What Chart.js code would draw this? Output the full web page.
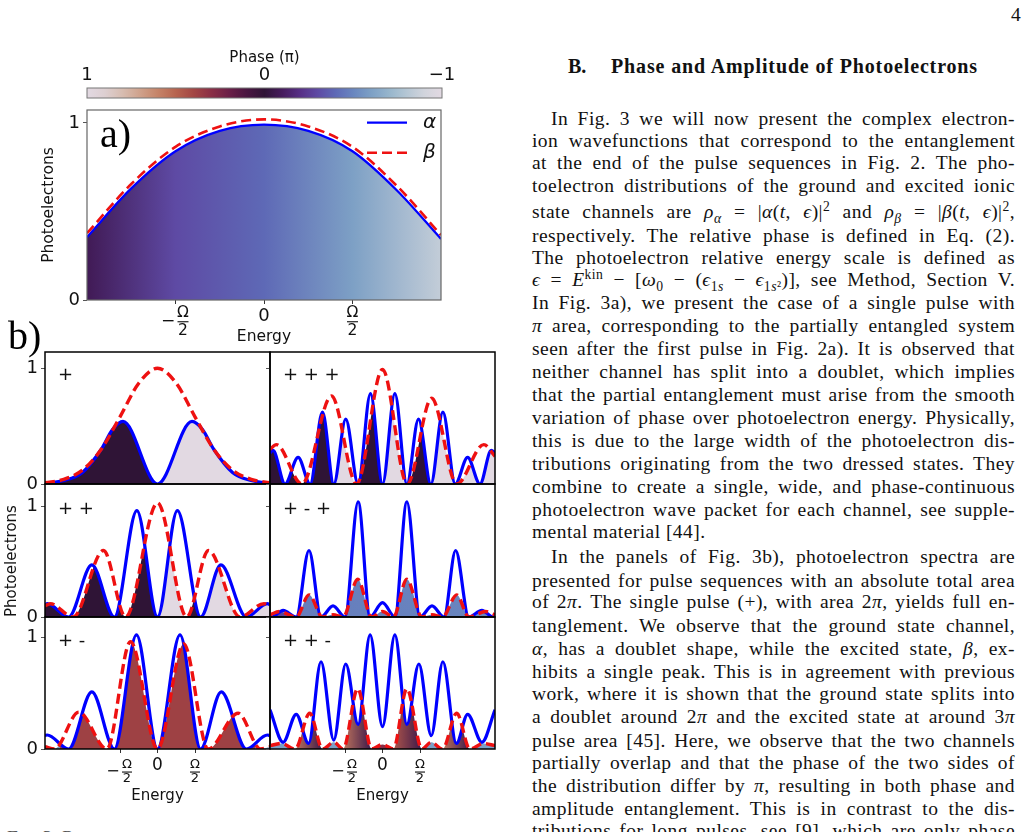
<!DOCTYPE html>
<html>
<head>
<meta charset="utf-8">
<title>Fig. 3 – phase and amplitude of photoelectrons</title>
<script src="https://cdn.jsdelivr.net/npm/chart.js@4.4.1/dist/chart.umd.min.js"></script>
<style>
  html, body { margin: 0; padding: 0; background: #fff; }
  #page { position: relative; width: 1029px; height: 832px; overflow: hidden; background: #fff; }
  #page canvas { position: absolute; }
  .sans { position: absolute; font-family: 'DejaVu Sans', sans-serif; font-size: 18px; line-height: 18px; color: #111; white-space: pre; }
  .tag { position: absolute; font-family: 'Liberation Serif', serif; font-size: 40px; line-height: 40px; color: #000; }
  .ln { position: absolute; left: 532px; width: 483px; font-family: 'Liberation Serif', 'Times New Roman', serif; font-size: 19.5px; line-height: 23px; color: #111; letter-spacing: 0.45px; text-align: justify; text-align-last: justify; }
  .ln.ind { left: 551px; width: 464px; }
  .ln.end { text-align-last: left; }
  .head { position: absolute; font-family: 'Liberation Serif', serif; font-weight: bold; font-size: 20px; line-height: 23px; color: #111; white-space: nowrap; }
  sub, sup { font-size: 70%; line-height: 0; }
</style>
</head>
<body>
<div id="page">
  <canvas id="cbar"></canvas>
  <canvas id="panelA"></canvas>
  <canvas id="pPlus"></canvas>
  <canvas id="pPlusPlus"></canvas>
  <canvas id="pPlusMinus"></canvas>
  <canvas id="pPPP"></canvas>
  <canvas id="pPMP"></canvas>
  <canvas id="pPPM"></canvas>

  <div class="tag" style="left:100px; top:114px;">a)</div>
  <div class="tag" style="left:8px; top:316px;">b)</div>
  <div class="sans" style="left:58px; top:365px;">+</div>
  <div class="sans" style="left:58px; top:499px;">+ +</div>
  <div class="sans" style="left:58px; top:631px;">+ -</div>
  <div class="sans" style="left:283px; top:365px;">+ + +</div>
  <div class="sans" style="left:283px; top:499px;">+ - +</div>
  <div class="sans" style="left:283px; top:631px;">+ + -</div>

  <div class="head" style="left:1011px; top:3px; font-weight:normal; font-size:19.5px;">4</div>
  <div class="head" style="left:568px; top:55px;">B.</div>
  <div id="secTitle" class="head" style="left:611px; top:55px; letter-spacing:0.9px;">Phase and Amplitude of Photoelectrons</div>

  <div class="ln ind" style="top:107px;">In Fig. 3 we will now present the complex electron-</div>
  <div class="ln" style="top:129px;">ion wavefunctions that correspond to the entanglement</div>
  <div class="ln" style="top:151px;">at the end of the pulse sequences in Fig. 2. The pho-</div>
  <div class="ln" style="top:174px;">toelectron distributions of the ground and excited ionic</div>
  <div class="ln" style="top:200px;">state channels are <i>ρ</i><sub><i>α</i></sub> = |<i>α</i>(<i>t</i>, <i>ϵ</i>)|<sup>2</sup> and <i>ρ</i><sub><i>β</i></sub> = |<i>β</i>(<i>t</i>, <i>ϵ</i>)|<sup>2</sup>,</div>
  <div class="ln" style="top:224px;">respectively. The relative phase is defined in Eq. (2).</div>
  <div class="ln" style="top:246px;">The photoelectron relative energy scale is defined as</div>
  <div class="ln" style="top:268px;"><i>ϵ</i> = <i>E</i><sup>kin</sup> − [<i>ω</i><sub>0</sub> − (<i>ϵ</i><sub>1<i>s</i></sub> − <i>ϵ</i><sub>1<i>s</i>²</sub>)], see Method, Section V.</div>
  <div class="ln" style="top:291px;">In Fig. 3a), we present the case of a single pulse with</div>
  <div class="ln" style="top:314px;"><i>π</i> area, corresponding to the partially entangled system</div>
  <div class="ln" style="top:337px;">seen after the first pulse in Fig. 2a). It is observed that</div>
  <div class="ln" style="top:360px;">neither channel has split into a doublet, which implies</div>
  <div class="ln" style="top:383px;">that the partial entanglement must arise from the smooth</div>
  <div class="ln" style="top:406px;">variation of phase over photoelectron energy. Physically,</div>
  <div class="ln" style="top:429px;">this is due to the large width of the photoelectron dis-</div>
  <div class="ln" style="top:452px;">tributions originating from the two dressed states. They</div>
  <div class="ln" style="top:475px;">combine to create a single, wide, and phase-continuous</div>
  <div class="ln" style="top:498px;">photoelectron wave packet for each channel, see supple-</div>
  <div class="ln end" style="top:520px;">mental material [44].</div>
  <div class="ln ind" style="top:545px;">In the panels of Fig. 3b), photoelectron spectra are</div>
  <div class="ln" style="top:569px;">presented for pulse sequences with an absolute total area</div>
  <div class="ln" style="top:590px;">of 2<i>π</i>. The single pulse (+), with area 2<i>π</i>, yields full en-</div>
  <div class="ln" style="top:614px;">tanglement. We observe that the ground state channel,</div>
  <div class="ln" style="top:637px;"><i>α</i>, has a doublet shape, while the excited state, <i>β</i>, ex-</div>
  <div class="ln" style="top:660px;">hibits a single peak. This is in agreement with previous</div>
  <div class="ln" style="top:682px;">work, where it is shown that the ground state splits into</div>
  <div class="ln" style="top:705px;">a doublet around 2<i>π</i> and the excited state at around 3<i>π</i></div>
  <div class="ln" style="top:729px;">pulse area [45]. Here, we observe that the two channels</div>
  <div class="ln" style="top:751px;">partially overlap and that the phase of the two sides of</div>
  <div class="ln" style="top:774px;">the distribution differ by <i>π</i>, resulting in both phase and</div>
  <div class="ln" style="top:797px;">amplitude entanglement. This is in contrast to the dis-</div>
  <div class="ln" style="top:819px;">tributions for long pulses, see [9], which are only phase</div>
  <div class="ln end" style="left:7px; width:480px; top:826px; color:#555; font-variant:small-caps;">Fig. 3. Photoelectron distributions and the relative phase</div>
</div>

<script>
// tick positions (energy in units of Ω/2)
const energyTicks = [-1, 0, 1];
const photoTicks = [0, 1];
const phaseTicks = [1, 0, -1];

// a) single π pulse
const aAlpha = [[-2, 0.355], [-1.5, 0.63], [-1, 0.84], [-0.5, 0.955], [0, 0.99], [0.5, 0.955], [1, 0.84], [1.5, 0.62], [2, 0.345]];
const aBeta = [[-2, 0.377], [-1.5, 0.655], [-1, 0.865], [-0.5, 0.98], [0, 1.02], [0.5, 0.98], [1, 0.865], [1.5, 0.645], [2, 0.367]];
const aPhase = [[-2, -0.08], [-1, -0.3], [0, -0.4], [1, -0.6], [2, -0.85]];

// b) "+"
const plusAlpha = [[-3, 0.005], [-2.5, 0.03], [-2, 0.1], [-1.5, 0.3], [-1.2, 0.47], [-0.92, 0.54], [0, 0], [0.92, 0.54], [1.2, 0.47], [1.5, 0.3], [2, 0.1], [2.5, 0.03], [3, 0.005]];
const plusBeta = [[-3, 0.01], [-2.5, 0.04], [-2, 0.12], [-1.5, 0.3], [-1, 0.58], [-0.5, 0.87], [0, 1.0], [0.5, 0.87], [1, 0.58], [1.5, 0.3], [2, 0.12], [2.5, 0.04], [3, 0.01]];
const plusPhase = [[-3, 0], [0, 0], [0, 1], [3, 1]];

// b) "+ +"
const ppAlpha = [[-3, 0.11], [-2.94, 0.12], [-2.37, 0], [-1.75, 0.47], [-1.15, 0], [-0.55, 0.96], [0, 0], [0.53, 0.96], [1.15, 0], [1.69, 0.47], [2.37, 0], [2.93, 0.12], [3, 0.11]];
const ppBeta = [[-3, 0.1], [-2.86, 0.12], [-2.25, 0], [-1.44, 0.6], [-0.85, 0], [0, 1.03], [0.78, 0], [1.36, 0.6], [2.2, 0], [2.84, 0.12], [3, 0.1]];
const ppPhase = [[-3, 0], [0, 0], [0, 1], [0.78, 1], [0.78, 0], [1.1, 0], [1.1, 1], [3, 1]];

// b) "+ -"
const pmAlpha = [[-3, 0.12], [-2.94, 0.125], [-2.37, 0], [-1.75, 0.51], [-1.15, 0], [-0.56, 1.02], [0, 0], [0.6, 1.02], [1.15, 0], [1.7, 0.51], [2.37, 0], [2.93, 0.125], [3, 0.12]];
const pmBeta = [[-3, 0.02], [-2.75, 0], [-2.1, 0.33], [-1.35, 0], [-0.72, 0.96], [0, 0], [0.7, 0.94], [1.35, 0], [2.15, 0.32], [2.75, 0], [3, 0.02]];
const pmPhase = [[-3, -0.6], [-2.6, -0.6], [-2.6, 0.38], [2.6, 0.38], [2.6, -0.6], [3, -0.6]];

// b) "+ + +"
const pppAlpha = [[-3, 0.27], [-2.92, 0.29], [-2.6, 0], [-2.25, 0.23], [-1.93, 0], [-1.6, 0.62], [-1.3, 0], [-0.98, 0.56], [-0.65, 0], [-0.32, 0.78], [0, 0], [0.33, 0.78], [0.65, 0], [0.96, 0.56], [1.29, 0], [1.61, 0.62], [1.94, 0], [2.27, 0.23], [2.6, 0], [2.9, 0.29], [3, 0.27]];
const pppBeta = [[-3, 0.3], [-2.83, 0.34], [-2.15, 0], [-1.36, 0.76], [-0.69, 0], [0, 0.99], [0.66, 0], [1.31, 0.74], [1.98, 0], [2.7, 0.34], [3, 0.24]];
const pppPhase = [[-3, 0], [-1.3, 0], [-1.3, 1], [-0.65, 1], [-0.65, 0], [0, 0], [0, 1], [0.65, 1], [0.65, 0], [1.3, 0], [1.3, 1], [3, 1]];

// b) "+ - +"
const pmpAlpha = [[-3, 0.01], [-2.95, 0], [-2.65, 0.06], [-2.3, 0], [-1.96, 0.6], [-1.64, 0], [-1.32, 0.1], [-1.0, 0], [-0.65, 1.04], [-0.33, 0], [0, 0.13], [0.33, 0], [0.65, 1.04], [1.0, 0], [1.32, 0.1], [1.64, 0], [1.95, 0.6], [2.3, 0], [2.65, 0.06], [2.95, 0], [3, 0.01]];
const pmpBeta = [[-3, 0.02], [-2.75, 0.05], [-2.3, 0], [-1.96, 0.2], [-1.6, 0], [-1.32, 0.02], [-1.05, 0], [-0.66, 0.34], [-0.29, 0], [0, 0.05], [0.29, 0], [0.65, 0.34], [1.05, 0], [1.32, 0.02], [1.6, 0], [1.98, 0.2], [2.3, 0], [2.75, 0.05], [3, 0.02]];
const pmpPhase = [[-3, -0.25], [-2.4, -0.3], [-2.2, -0.47], [3, -0.5]];

// b) "+ + -"
const ppmAlpha = [[-3, 0.35], [-2.65, 0.06], [-2.3, 0.31], [-1.97, 0.05], [-1.64, 0.78], [-1.3, 0.08], [-0.98, 0.76], [-0.65, 0.22], [-0.33, 1.02], [0, 0.2], [0.33, 1.02], [0.65, 0.22], [0.97, 0.76], [1.3, 0.12], [1.61, 0.78], [1.97, 0.05], [2.27, 0.31], [2.65, 0.06], [3, 0.35]];
const ppmBeta = [[-3, 0.03], [-2.7, 0.05], [-2.33, 0], [-1.94, 0.32], [-1.6, 0], [-1.3, 0.06], [-1.05, 0], [-0.66, 0.54], [-0.29, 0], [0, 0.04], [0.29, 0], [0.65, 0.54], [1.05, 0], [1.3, 0.06], [1.6, 0], [1.98, 0.32], [2.33, 0], [2.7, 0.05], [3, 0.03]];
const ppmPhase = [[-3, -0.6], [-2.33, -0.6], [-2.33, 0.55], [-1.6, -0.05], [-1.6, -0.6], [-1.05, -0.6], [-1.05, 0.55], [-0.29, -0.05], [-0.29, 0.3], [0.29, 0.3], [0.29, 0.45], [1.05, -0.05], [1.05, -0.6], [1.6, -0.6], [1.6, 0.55], [2.33, -0.05], [2.33, -0.6], [3, -0.6]];

// twilight colour map (matplotlib), phase +1 .. -1 maps to t = 1 .. 0
const twilightMap = [
  [0.00, [226, 217, 226]], [0.05, [209, 212, 220]], [0.10, [180, 198, 212]], [0.15, [150, 181, 204]],
  [0.20, [125, 160, 197]], [0.25, [105, 134, 191]], [0.30, [94, 105, 182]], [0.35, [94, 74, 164]],
  [0.40, [87, 47, 134]], [0.45, [70, 27, 93]], [0.50, [47, 20, 54]], [0.55, [74, 22, 65]],
  [0.60, [107, 31, 72]], [0.65, [138, 46, 70]], [0.70, [163, 70, 68]], [0.75, [183, 100, 79]],
  [0.80, [197, 131, 104]], [0.85, [207, 161, 139]], [0.90, [215, 188, 176]], [0.95, [221, 207, 209]],
  [1.00, [226, 217, 226]]
];

function twilight(t) {
  t = Math.min(1, Math.max(0, t));
  for (let i = 1; i < twilightMap.length; i++) {
    const [t1, c1] = twilightMap[i];
    if (t <= t1) {
      const [t0, c0] = twilightMap[i - 1];
      const f = (t - t0) / (t1 - t0);
      return 'rgb(' + c0.map((c, k) => Math.round(c + (c1[k] - c) * f)).join(',') + ')';
    }
  }
  return 'rgb(226,217,226)';
}
const phaseColor = p => twilight(0.5 + p / 2);

const BLUE = '#0000ff';
const RED = '#ee1111';

Chart.defaults.font.family = "'DejaVu Sans', sans-serif";
Chart.defaults.color = '#111';

// fill under min(alpha, beta), coloured by the relative phase
const overlapFill = {
  id: 'overlapFill',
  beforeDatasetsDraw(chart, args, opts) {
    const stops = opts.phase;
    if (!stops) return;
    const { ctx, chartArea: area, scales } = chart;
    const base = scales.y.getPixelForValue(0);
    const under = meta => {
      const line = meta.dataset;
      line.updateControlPoints(area, 'x');
      const pts = line.points;
      ctx.beginPath();
      line.path(ctx);
      ctx.lineTo(pts[pts.length - 1].x, base);
      ctx.lineTo(pts[0].x, base);
      ctx.closePath();
    };
    const grad = ctx.createLinearGradient(area.left, 0, area.right, 0);
    const span = scales.x.max - scales.x.min;
    stops.forEach(([x, p]) => {
      grad.addColorStop(Math.min(1, Math.max(0, (x - scales.x.min) / span)), phaseColor(p));
    });
    ctx.save();
    ctx.beginPath();
    ctx.rect(area.left, area.top, area.width, area.height);
    ctx.clip();
    under(chart.getDatasetMeta(0));
    ctx.clip();
    under(chart.getDatasetMeta(1));
    ctx.fillStyle = grad;
    ctx.fill();
    ctx.restore();
  }
};

const frame = {
  id: 'frame',
  afterDatasetsDraw(chart, args, opts) {
    if (!opts.width) return;
    const { ctx, chartArea: a } = chart;
    ctx.save();
    ctx.strokeStyle = opts.color;
    ctx.lineWidth = opts.width;
    ctx.strokeRect(a.left, a.top, a.width, a.height);
    ctx.restore();
  }
};

// -Ω/2, 0, Ω/2 drawn as stacked fractions under the energy ticks
const fracTicks = {
  id: 'fracTicks',
  afterDraw(chart, args, o) {
    if (!o.show) return;
    const { ctx } = chart;
    const xs = chart.scales.x;
    const base = chart.chartArea.bottom;
    ctx.save();
    ctx.fillStyle = '#111';
    ctx.textAlign = 'center';
    ctx.textBaseline = 'middle';
    energyTicks.forEach(v => {
      const px = xs.getPixelForValue(v);
      if (v === 0) {
        ctx.font = o.zeroSize + "px 'DejaVu Sans'";
        ctx.fillText('0', px, base + o.zeroY);
        return;
      }
      const cx = v < 0 ? px + o.shift : px;
      if (v < 0) {
        ctx.font = o.minusSize + "px 'DejaVu Sans'";
        ctx.fillText('−', px - o.shift, base + o.barY);
      }
      ctx.font = o.fracSize + "px 'DejaVu Sans'";
      ctx.fillText('Ω', cx, base + o.numY);
      ctx.fillText('2', cx, base + o.denY);
      ctx.fillRect(cx - o.barW / 2, base + o.barY - 0.5, o.barW, 1.1);
    });
    ctx.restore();
  }
};

const lineLegend = {
  id: 'lineLegend',
  afterDatasetsDraw(chart, args, o) {
    if (!o.show) return;
    const { ctx, chartArea: a } = chart;
    chart.data.datasets.forEach((ds, i) => {
      const y = a.top + o.y0 + i * o.dy;
      ctx.save();
      ctx.strokeStyle = ds.borderColor;
      ctx.lineWidth = ds.borderWidth;
      ctx.setLineDash(ds.borderDash || []);
      ctx.beginPath();
      ctx.moveTo(a.right - o.x0, y);
      ctx.lineTo(a.right - o.x1, y);
      ctx.stroke();
      ctx.setLineDash([]);
      ctx.fillStyle = '#111';
      ctx.font = 'italic ' + o.size + "px 'DejaVu Sans'";
      ctx.textAlign = 'left';
      ctx.textBaseline = 'middle';
      ctx.fillText(ds.label, a.right - o.textX, y);
      ctx.restore();
    });
  }
};

function place(id, box) {
  const cv = document.getElementById(id);
  cv.width = box.w;
  cv.height = box.h;
  cv.style.left = box.left + 'px';
  cv.style.top = box.top + 'px';
  return cv;
}

function makePanel(id, box, p) {
  const cv = place(id, box);
  return new Chart(cv, {
    type: 'line',
    data: {
      datasets: [
        { label: 'α', data: p.alpha.map(([x, y]) => ({ x, y })), borderColor: BLUE, borderWidth: p.lw, order: 1 },
        { label: 'β', data: p.beta.map(([x, y]) => ({ x, y })), borderColor: RED, borderWidth: p.lwDash, borderDash: p.dash, order: 0 }
      ]
    },
    options: {
      animation: false,
      responsive: false,
      events: [],
      layout: { padding: box.pad },
      elements: {
        point: { radius: 0 },
        line: { cubicInterpolationMode: 'monotone', fill: false, borderCapStyle: 'butt', borderJoinStyle: 'round' }
      },
      plugins: {
        legend: { display: false },
        tooltip: { enabled: false },
        overlapFill: { phase: p.phase },
        frame: { color: p.frameColor, width: p.frameWidth },
        fracTicks: p.frac || { show: false },
        lineLegend: p.legend || { show: false }
      },
      scales: {
        x: {
          type: 'linear',
          min: p.xmin,
          max: p.xmax,
          afterFit: s => { s.height = box.xH; },
          afterBuildTicks: s => { s.ticks = energyTicks.map(v => ({ value: v })); },
          ticks: { display: false },
          grid: { display: !!p.xTickMarks, drawOnChartArea: false, tickLength: 4, color: '#333' },
          border: { display: false },
          title: p.xTitle
            ? { display: true, text: 'Energy', color: '#111', font: { size: p.xTitle.size }, padding: { top: 0, bottom: p.xTitle.pad } }
            : { display: false }
        },
        y: {
          min: 0,
          max: p.ymax,
          afterFit: s => { s.width = box.yW; },
          afterBuildTicks: s => { s.ticks = photoTicks.map(v => ({ value: v })); },
          ticks: { display: !!p.yLabels, color: '#111', font: { size: 18 }, padding: 3 },
          grid: { display: true, drawOnChartArea: false, tickLength: 4, color: '#555' },
          border: { display: false },
          title: p.yTitle
            ? { display: true, text: 'Photoelectrons', color: '#111', align: p.yTitle.align, font: { size: p.yTitle.size }, padding: { top: p.yTitle.pad, bottom: 0 } }
            : { display: false }
        }
      }
    },
    plugins: [overlapFill, frame, fracTicks, lineLegend]
  });
}

// colour bar for the phase
(function () {
  const cv = place('cbar', { left: 60, top: 40, w: 420, h: 62 });
  const barGradient = chart => {
    const area = chart.chartArea;
    if (!area) return '#888';
    const g = chart.ctx.createLinearGradient(area.left, 0, area.right, 0);
    for (let i = 0; i <= 40; i++) g.addColorStop(i / 40, phaseColor(1 - 2 * i / 40));
    return g;
  };
  new Chart(cv, {
    type: 'bar',
    data: {
      labels: ['phase'],
      datasets: [{ data: [[-1, 1]], backgroundColor: c => barGradient(c.chart), borderWidth: 0, barPercentage: 1, categoryPercentage: 1 }]
    },
    options: {
      indexAxis: 'y',
      animation: false,
      responsive: false,
      events: [],
      layout: { padding: { left: 27, right: 38, top: 0, bottom: 4 } },
      plugins: { legend: { display: false }, tooltip: { enabled: false }, frame: { color: '#777', width: 1 } },
      scales: {
        x: {
          type: 'linear', min: -1, max: 1, reverse: true, position: 'top',
          afterFit: s => { s.height = 48; },
          afterBuildTicks: s => { s.ticks = phaseTicks.map(v => ({ value: v })); },
          ticks: { color: '#111', font: { size: 18 }, padding: 2, maxRotation: 0, callback: v => (v < 0 ? '−' + Math.abs(v) : String(v)) },
          grid: { display: false, drawTicks: false },
          border: { display: false },
          title: { display: true, text: 'Phase (π)', color: '#111', font: { size: 15 }, padding: { top: 9, bottom: 0 } }
        },
        y: { display: false }
      }
    },
    plugins: [frame]
  });
})();

// a)
makePanel('panelA',
  { left: 0, top: 95, w: 460, h: 255, pad: { top: 15, right: 19, left: 0, bottom: 0 }, yW: 87, xH: 50 },
  {
    alpha: aAlpha, beta: aBeta, phase: aPhase,
    xmin: -2, xmax: 2, ymax: 1.073,
    lw: 2.3, lwDash: 2.6, dash: [10, 5],
    frameColor: '#666', frameWidth: 1.2,
    yLabels: true, xTickMarks: true,
    yTitle: { size: 15.5, pad: 39.7, align: 'center' },
    xTitle: { size: 15.5, pad: 3.7 },
    frac: { show: true, numY: 12.7, denY: 30.7, barY: 21.7, zeroY: 16.7, shift: 7.5, fracSize: 15.5, zeroSize: 18, minusSize: 17, barW: 11 },
    legend: { show: true, x0: 74, x1: 34, textX: 18, y0: 12.7, dy: 30, size: 20 }
  });

// b) six panels
const colLeft = { left: 0, w: 275 };
const colRight = { left: 225, w: 275 };
const rows = [
  { top: 337, h: 162, xH: 15, ymax: 1.14 },
  { top: 469, h: 163, xH: 15, ymax: 1.2 },
  { top: 602, h: 207, xH: 60, ymax: 1.18 }
];
const bFrac = { show: true, numY: 16, denY: 30, barY: 23, zeroY: 17, shift: 7, fracSize: 13, zeroSize: 17, minusSize: 16, barW: 10 };

function bPanel(id, col, r, alpha, beta, phase, extra) {
  const row = rows[r];
  makePanel(id,
    { left: col.left, top: row.top, w: col.w, h: row.h, pad: { top: 15, right: 5, left: 0, bottom: 0 }, yW: 45, xH: row.xH },
    Object.assign({
      alpha, beta, phase,
      xmin: -3, xmax: 3, ymax: row.ymax,
      lw: 3.2, lwDash: 3.4, dash: [10, 5],
      frameColor: '#000', frameWidth: 1.5,
      xTickMarks: r === 2,
      xTitle: r === 2 ? { size: 15, pad: 4 } : null,
      frac: r === 2 ? bFrac : null
    }, extra));
}

bPanel('pPlus', colLeft, 0, plusAlpha, plusBeta, plusPhase, { yLabels: true });
bPanel('pPlusPlus', colLeft, 1, ppAlpha, ppBeta, ppPhase, { yLabels: true, yTitle: { size: 15, pad: 3.5, align: 'start' } });
bPanel('pPlusMinus', colLeft, 2, pmAlpha, pmBeta, pmPhase, { yLabels: true });
bPanel('pPPP', colRight, 0, pppAlpha, pppBeta, pppPhase, { yLabels: false });
bPanel('pPMP', colRight, 1, pmpAlpha, pmpBeta, pmpPhase, { yLabels: false });
bPanel('pPPM', colRight, 2, ppmAlpha, ppmBeta, ppmPhase, { yLabels: false });

// keep every text line on a single line
document.querySelectorAll('.ln').forEach(el => {
  let ls = 0.45;
  while (el.getBoundingClientRect().height > 30 && ls > -2) {
    ls -= 0.1;
    el.style.letterSpacing = ls + 'px';
  }
});

// section title: stretch letter spacing to span the same width as in print
(function () {
  const el = document.getElementById('secTitle');
  const target = 367;
  const n = el.textContent.length;
  const w = el.getBoundingClientRect().width;
  const ls = 0.9 + (target - w) / n;
  el.style.letterSpacing = ls + 'px';
})();
</script>
</body>
</html>
